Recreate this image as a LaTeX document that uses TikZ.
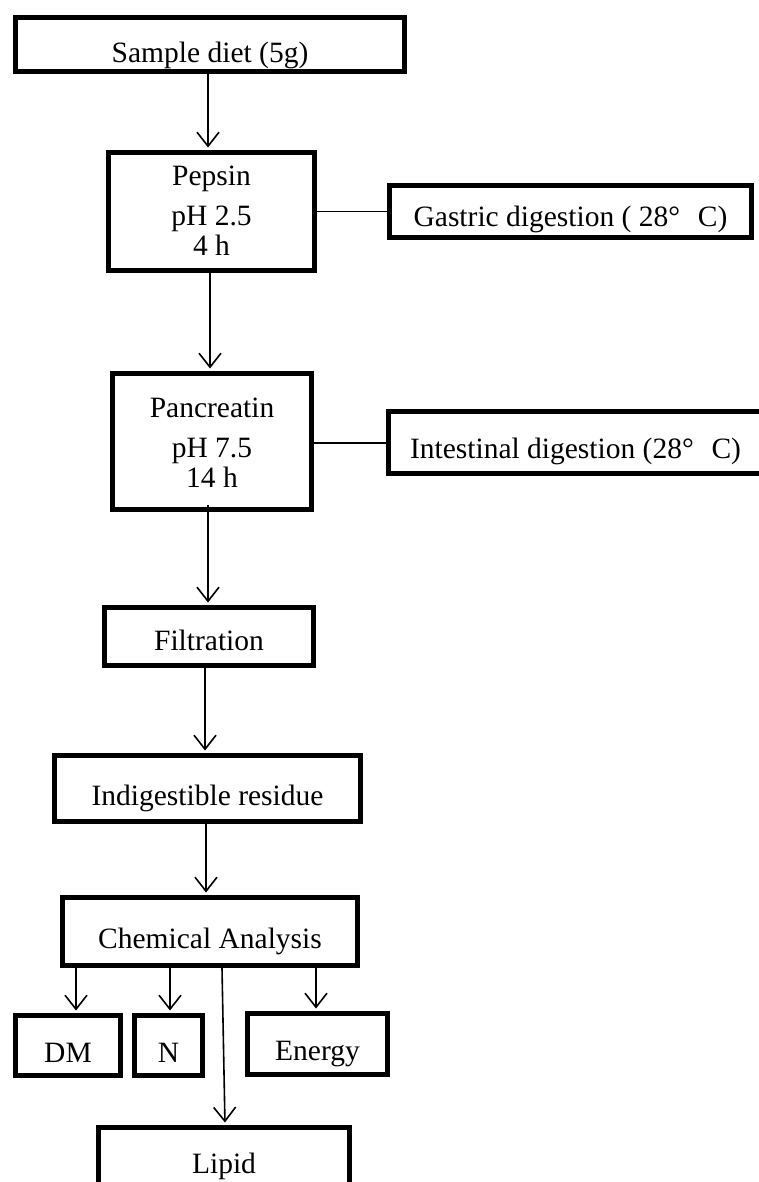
\documentclass[tikz,border=0pt]{standalone}
\usepackage{fontspec}
\setmainfont{Liberation Serif}
\usetikzlibrary{arrows.meta}
\newcommand{\boxtext}[2]{\raisebox{#1}[0pt][0pt]{#2}}
\newcommand{\boxlines}[2]{\raisebox{#1}[0pt][0pt]{\begin{tabular}[t]{@{}c@{}}#2\end{tabular}}}
\tikzset{
  box/.style={draw, line width=2.5pt, inner sep=0pt, fill=white,
    font=\fontsize{14.75}{15}\selectfont},
  arr/.style={line width=0.8pt, -{Straight Barb[length=7pt,width=11pt]}, shorten >=1.25pt},
  link/.style={line width=0.8pt},
  thicklink/.style={line width=1.3pt},
}
\begin{document}
\begin{tikzpicture}[x=0.5pt,y=-0.5pt]
\useasboundingbox (0,0) rectangle (759,1182);
\clip (0,0) rectangle (759,1182);
\fill[white] (0,0) rectangle (759,1182);

\node[box, minimum width=194.5pt, minimum height=27pt] (sample) at (210,44.5)
  {\boxtext{-9.25pt}{Sample diet (5g)}};
\node[box, minimum width=103pt, minimum height=59pt] (pepsin) at (211.5,211.5)
  {\boxlines{12.75pt}{Pepsin\\[5pt] pH 2.5\\ 4 h}};
\node[box, minimum width=181pt, minimum height=26pt] (gastric) at (570.5,211.5)
  {\boxtext{-7.75pt}{Gastric digestion (\hspace{0.25em}28°\hspace{0.6em}C)}};
\node[box, minimum width=99.5pt, minimum height=68pt] (pancreatin) at (212,441.5)
  {\boxlines{12.25pt}{Pancreatin\\[5pt] pH 7.5\\ 14 h}};
\node[box, minimum width=187pt, minimum height=31pt] (intestinal) at (575.5,442.5)
  {\boxtext{-7.75pt}{Intestinal digestion (28°\hspace{0.6em}C)}};
\node[box, minimum width=104.5pt, minimum height=29pt] (filtration) at (209,636.5)
  {\boxtext{-6.75pt}{Filtration}};
\node[box, minimum width=153pt, minimum height=33pt] (residue) at (207.5,788.5)
  {\boxtext{-8.25pt}{Indigestible residue}};
\node[box, minimum width=147.5pt, minimum height=34pt] (chem) at (210,931.5)
  {\boxtext{-8.25pt}{Chemical Analysis}};
\node[box, minimum width=52.5pt, minimum height=30pt] (dm) at (68,1045.5)
  {\boxtext{-8.25pt}{DM}};
\node[box, minimum width=34pt, minimum height=30pt] (n) at (168.5,1045.5)
  {\boxtext{-8.25pt}{N}};
\node[box, minimum width=70pt, minimum height=30.5pt] (energy) at (317.5,1044)
  {\boxtext{-8pt}{Energy}};
\node[box, minimum width=125.5pt, minimum height=32.5pt] (lipid) at (224,1160)
  {\boxtext{-6.5pt}{Lipid}};

\draw[arr] ([xshift=-1pt]sample.south) -- ([xshift=-1.75pt]pepsin.north);
\draw[link] (pepsin.east) -- (gastric.west);
\draw[arr] ([xshift=-0.75pt]pepsin.south) -- ([xshift=-1pt]pancreatin.north);
\draw[thicklink] ([yshift=-0.75pt]pancreatin.east) -- ([yshift=-0.75pt]pancreatin.east -| intestinal.west);
\draw[arr] ([xshift=-2pt,yshift=3.75pt]pancreatin.south) -- ([xshift=-0.5pt]filtration.north);
\draw[arr] ([xshift=-2pt]filtration.south) -- ([xshift=-1.25pt]residue.north);
\draw[arr] ([xshift=-0.75pt]residue.south) -- ([xshift=-2pt]chem.north);
\draw[arr] ([xshift=-67pt]chem.south) -- ([xshift=4pt]dm.north);
\draw[arr] ([xshift=-20pt]chem.south) -- ([xshift=0.75pt]n.north);
\draw[arr] ([xshift=53pt]chem.south) -- ([xshift=-0.75pt]energy.north);
\draw[arr] ([xshift=6pt]chem.south) -- ([xshift=0.5pt]lipid.north);
\end{tikzpicture}
\end{document}
